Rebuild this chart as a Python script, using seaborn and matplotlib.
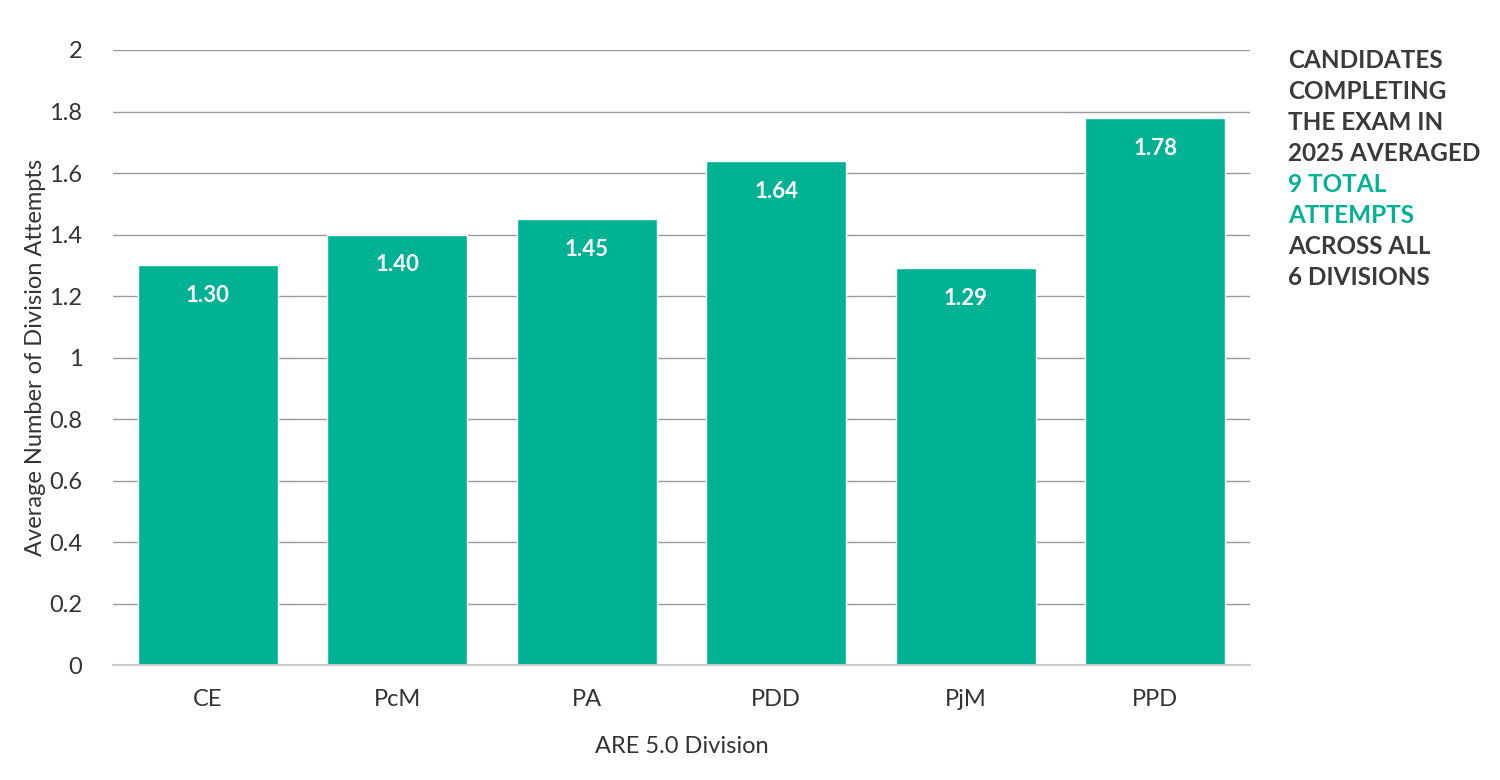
import pandas as pd
import matplotlib.pyplot as plt
import seaborn as sns

divisions = ["CE", "PcM", "PA", "PDD", "PjM", "PPD"]
attempts = [1.30, 1.40, 1.45, 1.64, 1.29, 1.78]
y_ticks = [0, 0.2, 0.4, 0.6, 0.8, 1, 1.2, 1.4, 1.6, 1.8, 2]
note_lines = ["CANDIDATES", "COMPLETING", "THE EXAM IN", "2025 AVERAGED",
              "9 TOTAL", "ATTEMPTS", "ACROSS ALL", "6 DIVISIONS"]
note_green = [False, False, False, False, True, True, False, False]

green = "#00B294"
dark = "#3a3a3a"
text_col = "#333333"

sns.set_theme(style="white")
plt.rcParams["font.family"] = ["Lato", "DejaVu Sans"]

df = pd.DataFrame({"Division": divisions, "Attempts": attempts})

fig = plt.figure(figsize=(15, 7.8), dpi=100)
ax = fig.add_axes([0.0753, 0.1474, 0.758, 0.7885])

sns.barplot(data=df, x="Division", y="Attempts", color=green, saturation=1,
            width=0.737, ax=ax, zorder=3)

ax.set_ylim(0, 2)
ax.set_xlim(-0.5, len(divisions) - 0.5)
ax.set_yticks(y_ticks)
ax.set_yticklabels([f"{t:g}" for t in y_ticks], fontsize=17, color=text_col)
ax.tick_params(axis="x", labelsize=17, labelcolor=text_col, length=0, pad=17)
ax.tick_params(axis="y", length=0, pad=22)

ax.grid(axis="y", color="#9a9a9a", linewidth=1, zorder=0)
for side in ["top", "right", "left"]:
    ax.spines[side].set_visible(False)
ax.spines["bottom"].set_color("#cccccc")
ax.spines["bottom"].set_linewidth(1.5)
ax.spines["bottom"].set_zorder(4)

ax.set_xlabel("ARE 5.0 Division", fontsize=17, color=text_col, labelpad=19)
ax.set_ylabel("Average Number of Division Attempts", fontsize=17,
              color=text_col, labelpad=2)

for i, v in enumerate(attempts):
    ax.text(i, v - 0.065, f"{v:.2f}", ha="center", va="top", color="white",
            fontsize=16, fontweight="bold", zorder=5)

for k, (line, is_green) in enumerate(zip(note_lines, note_green)):
    fig.text(0.859, 0.922 - k * 0.0397, line, ha="left", va="center",
             fontsize=17.5, fontweight="bold", color=green if is_green else dark)

fig.savefig("out.png", dpi=100)
